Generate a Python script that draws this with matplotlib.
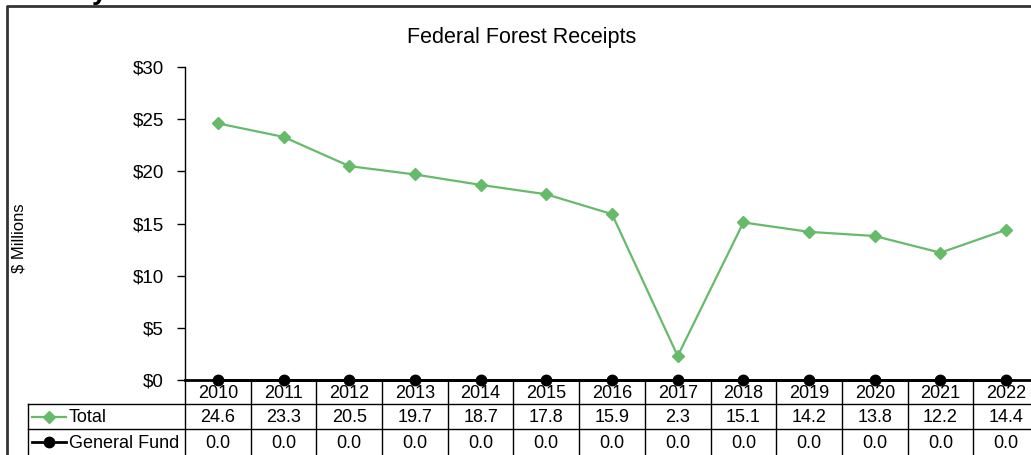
import matplotlib
matplotlib.use("Agg")
import matplotlib.pyplot as plt
import matplotlib.transforms as mtransforms

plt.rcParams['font.family'] = ['Liberation Sans', 'DejaVu Sans']

years = ['2010', '2011', '2012', '2013', '2014', '2015', '2016',
         '2017', '2018', '2019', '2020', '2021', '2022']
total = [24.6, 23.3, 20.5, 19.7, 18.7, 17.8, 15.9, 2.3, 15.1, 14.2, 13.8, 12.2, 14.4]
general_fund = [0.0] * 13
yticks = [0, 5, 10, 15, 20, 25, 30]
ytick_labels = ['$0', '$5', '$10', '$15', '$20', '$25', '$30']

GREEN = '#66bb6a'
FS = 13
W, H = 1031, 455
fig = plt.figure(figsize=(W / 100, H / 100), dpi=100)

# overlay in pixel coordinates
ov = fig.add_axes([0, 0, 1, 1], zorder=0)
ov.set_xlim(0, W)
ov.set_ylim(H, 0)
ov.axis('off')

# main axes: x from 185px to 1039px, y from 380px to 67px
ax_left, ax_right = 185, 1039
ax_top, ax_bot = 67, 380
ax = fig.add_axes([ax_left / W, 1 - ax_bot / H, (ax_right - ax_left) / W, (ax_bot - ax_top) / H], zorder=2)
ax.patch.set_alpha(0)
x = list(range(len(years)))
ax.plot(x, total, color=GREEN, lw=1.6, marker='D', ms=6, clip_on=False, zorder=3)
ax.plot(x, general_fund, color='black', lw=2, marker='o', ms=7.5, clip_on=False, zorder=4)
ax.set_xlim(-0.5, len(years) - 0.5)
ax.set_ylim(0, 30)
ax.set_yticks(yticks)
ax.set_yticklabels(ytick_labels, fontsize=13.5)
ax.tick_params(axis='y', length=6, width=1, direction='out', pad=9)
ax.set_xticks([])
for s in ['top', 'right']:
    ax.spines[s].set_visible(False)
ax.spines['left'].set_linewidth(1)
ax.spines['bottom'].set_linewidth(2)

# border
ov.plot([7, 7, W + 5], [H + 5, 6, 6], color='#333333', lw=2, clip_on=False)
# cut-off text at top
ov.text(100, -1, 'y', fontsize=20, fontweight='bold', ha='center', va='baseline', clip_on=False)

# title and y label
fig.text(522 / W, 1 - 38 / H, 'Federal Forest Receipts', ha='center', va='center', fontsize=15.5)
fig.text(19 / W, 1 - 238 / H, '$ Millions', ha='center', va='center', rotation=90, fontsize=12)

# data table
bt = mtransforms.blended_transform_factory(ax.transData, ov.transData)
row_y = [380, 404, 429, 455]
for i in range(len(years) + 1):
    ov.plot([i - 0.5, i - 0.5], [row_y[0], H + 5], color='black', lw=1, transform=bt, clip_on=False)
ov.plot([28, W + 5], [404, 404], color='black', lw=1)
ov.plot([28, W + 5], [429, 429], color='black', lw=1)
ov.plot([28, 28], [404, H + 5], color='black', lw=1)

for i, yr in enumerate(years):
    ov.text(i, 393, yr, transform=bt, ha='center', va='center', fontsize=FS)
    ov.text(i, 418, f'{total[i]:.1f}', transform=bt, ha='center', va='center', fontsize=FS)
    ov.text(i, 444, f'{general_fund[i]:.1f}', transform=bt, ha='center', va='center', fontsize=FS)

# legend keys in table
ov.plot([32, 66], [417, 417], color=GREEN, lw=1.6)
ov.plot([49], [417], marker='D', color=GREEN, ms=6)
ov.text(69, 418, 'Total', ha='left', va='center', fontsize=FS)
ov.plot([32, 66], [442, 442], color='black', lw=2)
ov.plot([49], [442], marker='o', color='black', ms=7.5)
ov.text(69, 443, 'General Fund', ha='left', va='center', fontsize=FS)

fig.savefig('out.png', dpi=100)
